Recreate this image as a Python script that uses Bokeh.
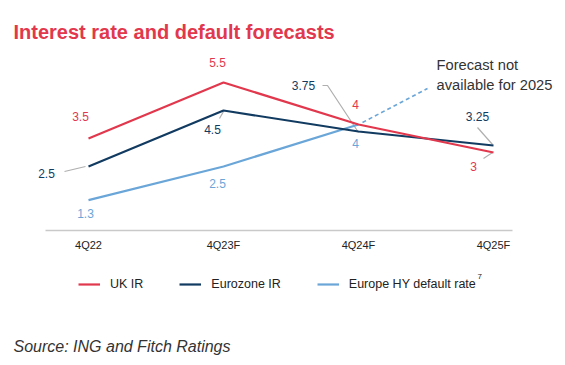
from bokeh.plotting import figure
from bokeh.models import ColumnDataSource, Range1d, FixedTicker, Label, Legend, LegendItem
from bokeh.core.properties import value
from bokeh.embed import file_html
from bokeh.resources import INLINE

# ---------------- data ----------------
categories = ["4Q22", "4Q23F", "4Q24F", "4Q25F"]
uk_ir = [3.5, 5.5, 4.0, 3.0]
eurozone_ir = [2.5, 4.5, 3.75, 3.25]
hy_default = [1.3, 2.5, 4.0]
uk_text = ["3.5", "5.5", "4", "3"]
ez_text = ["2.5", "4.5", "3.75", "3.25"]
hy_text = ["1.3", "2.5", "4"]
series_names = ["UK IR", "Eurozone IR", "Europe HY default rate"]
title_text = "Interest rate and default forecasts"
note_lines = ["Forecast not", "available for 2025"]
source_text = "Source: ING and Fitch Ratings"

# ---------------- styles / layout ----------------
RED = "#E2384D"
NAVY = "#123B61"
LBLUE = "#6BA6D8"
GRAY = "#AFAFAF"
DARK = "#222222"
FONT = "Liberation Sans"

W, H = 557, 357
X0, X1 = -0.65185, 3.47407
Y0, Y1 = -4.32143, 8.42857
AXIS_Y = 0.2143
PX = W / (X1 - X0)   # pixels per x unit
PY = H / (Y1 - Y0)   # pixels per y unit

# label pixel offsets (screen, y down)
uk_dx, uk_dy = [-8, -6, -3, -20], [-22, -20, -20, 14]
ez_dx, ez_dy = [-42, -11, -55, -16], [7, 19, -46, -29]
hy_dx, hy_dy = [-3, -6, -3], [13, 17, 19]

p = figure(width=W, height=H, output_backend="svg", toolbar_location=None,
           x_range=Range1d(X0, X1), y_range=Range1d(Y0, Y1),
           y_axis_location=None, min_border=0, min_border_left=0,
           min_border_right=0, min_border_top=0, min_border_bottom=0)
p.outline_line_color = None
p.xgrid.visible = False
p.ygrid.visible = False
p.background_fill_color = "white"
p.border_fill_color = "white"

xs = list(range(len(categories)))

# x axis (drawn at a fixed data height inside the frame)
ax = p.xaxis[0]
ax.fixed_location = AXIS_Y
ax.ticker = FixedTicker(ticks=xs)
ax.major_label_overrides = {i: c for i, c in zip(xs, categories)}
ax.bounds = (-0.319, 3.141)
ax.axis_line_color = "#C9C9C9"
ax.axis_line_width = 1.5
ax.major_tick_line_color = None
ax.minor_tick_line_color = None
ax.major_tick_out = 0
ax.major_tick_in = 0
ax.major_label_standoff = 9
ax.major_label_text_font = FONT
ax.major_label_text_font_size = "11px"
ax.major_label_text_color = DARK

# leader lines (pixel offsets relative to a data point)
def leader(x, y, pts):
    return [x + dx / PX for dx, dy in pts], [y - dy / PY for dx, dy in pts]

leaders = [
    (xs[0], eurozone_ir[0], [(-24, 5), (-3, 0)]),
    (xs[1], eurozone_ir[1], [(-4, 8), (0, 1)]),
    (xs[2], eurozone_ir[2], [(-36, -46), (-31, -46), (0, 1)]),
    (xs[3], eurozone_ir[3], [(-16, -18), (-1, -1)]),
    (xs[3], uk_ir[3], [(-10, 6), (-1, 0)]),
]
lx, ly = [], []
for x, y, pts in leaders:
    a, b = leader(x, y, pts)
    lx.append(a)
    ly.append(b)
p.multi_line(lx, ly, line_color=GRAY, line_width=1.2)

# dashed pointer toward the note
dx_, dy_ = leader(xs[2], hy_default[2], [(4, -2), (69, -36)])
p.line(dx_, dy_, line_color=LBLUE, line_width=1.6, line_dash="4 3")

# series lines
r_hy = p.line(xs[:len(hy_default)], hy_default, line_color=LBLUE, line_width=2.2)
r_ez = p.line(xs, eurozone_ir, line_color=NAVY, line_width=2.2)
r_uk = p.line(xs, uk_ir, line_color=RED, line_width=2.2)

# value labels
def add_labels(vals, texts, dxs, dys, color):
    src = ColumnDataSource(dict(x=xs[:len(vals)], y=vals, t=texts, dx=dxs, dy=dys))
    p.text(x="x", y="y", text="t", x_offset="dx", y_offset="dy", source=src,
           text_align="center", text_baseline="middle", text_color=color,
           text_font=value(FONT), text_font_size="12px")

add_labels(uk_ir, uk_text, uk_dx, uk_dy, RED)
add_labels(eurozone_ir, ez_text, ez_dx, ez_dy, NAVY)
add_labels(hy_default, hy_text, hy_dx, hy_dy, LBLUE)

def screen_label(x, y_top, text, **kw):
    # y_top: distance from the top edge of the canvas
    p.add_layout(Label(x=x, y=H - y_top, x_units="screen", y_units="screen", text=text,
                       text_font=FONT, text_baseline="middle", text_align="left", **kw))

# note
for i, line in enumerate(note_lines):
    screen_label(436, 64 + 20 * i, line, text_font_size="14.7px", text_color="#333333")

# title
screen_label(13, 31, title_text, text_font_size="20px", text_font_style="bold",
             text_color=RED)

# source
screen_label(13, 346, source_text, text_font_size="16px", text_font_style="italic",
             text_color="#333333")

# legend
legend = Legend(items=[LegendItem(label=series_names[0], renderers=[r_uk]),
                       LegendItem(label=series_names[1], renderers=[r_ez]),
                       LegendItem(label=series_names[2], renderers=[r_hy])],
                orientation="horizontal", location=(78, H - 292), glyph_width=22,
                glyph_height=16, label_standoff=10, spacing=36, padding=0, margin=0,
                border_line_color=None, background_fill_alpha=0,
                label_text_font=FONT, label_text_font_size="12.5px",
                label_text_color=DARK, label_height=16)
p.add_layout(legend)

screen_label(477, 276, "7", text_font_size="8px", text_color=DARK)

open("out.html", "w").write(file_html(p, INLINE))
